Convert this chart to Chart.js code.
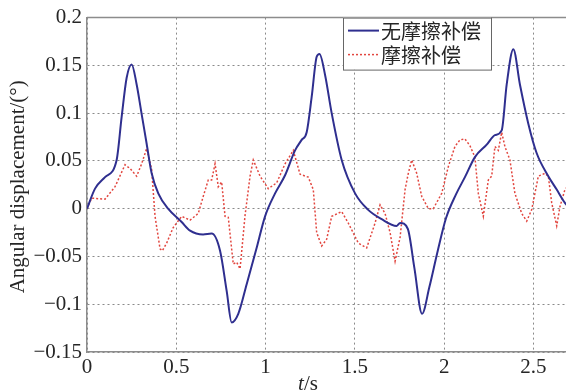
<!DOCTYPE html>
<html>
<head>
<meta charset="utf-8">
<script src="https://cdn.jsdelivr.net/npm/chart.js@4.4.0/dist/chart.umd.min.js"></script>
<style>
  html, body { margin: 0; padding: 0; background: #fff; }
  #wrap { width: 566px; height: 392px; position: relative; }
</style>
</head>
<body>
<div id="wrap"><canvas id="c" width="566" height="392"></canvas></div>
<script>
// Angular displacement response, without and with friction compensation
const timeNoComp = [0, 0.045, 0.101, 0.166, 0.194, 0.222, 0.250, 0.278, 0.306, 0.334, 0.362, 0.399, 0.454,
  0.530, 0.577, 0.650, 0.698, 0.745, 0.782, 0.810, 0.847, 0.894, 0.950, 0.997, 1.053, 1.109, 1.165,
  1.202, 1.230, 1.258, 1.286, 1.302, 1.333, 1.370, 1.426, 1.501, 1.573, 1.650, 1.734, 1.753, 1.796,
  1.833, 1.876, 1.917, 1.964, 2.010, 2.066, 2.116, 2.172, 2.238, 2.284, 2.322, 2.350, 2.387, 2.424,
  2.471, 2.518, 2.583, 2.630, 2.676, 2.700];
const dispNoComp = [0, 0.021, 0.033, 0.051, 0.096, 0.137, 0.151, 0.130, 0.099, 0.068, 0.037, 0.016, 0.000,
  -0.014, -0.023, -0.027, -0.026, -0.044, -0.086, -0.119, -0.110, -0.079, -0.041, -0.008, 0.016, 0.035, 0.061,
  0.072, 0.080, 0.117, 0.159, 0.162, 0.140, 0.100, 0.051, 0.016, -0.001, -0.011, -0.018, -0.015, -0.021,
  -0.062, -0.110, -0.082, -0.044, -0.010, 0.015, 0.033, 0.054, 0.067, 0.077, 0.082, 0.130, 0.167, 0.130,
  0.089, 0.058, 0.034, 0.020, 0.006, 0.001];

const timeComp = [0, 0.026, 0.101, 0.157, 0.213, 0.241, 0.278, 0.306, 0.334, 0.362, 0.381, 0.409, 0.422,
  0.446, 0.482, 0.530, 0.577, 0.623, 0.651, 0.679, 0.698, 0.717, 0.735, 0.754, 0.773, 0.791, 0.819, 0.838,
  0.857, 0.885, 0.913, 0.931, 0.969, 1.015, 1.062, 1.109, 1.155, 1.193, 1.239, 1.267, 1.286, 1.314, 1.342,
  1.370, 1.426, 1.463, 1.519, 1.566, 1.613, 1.641, 1.669, 1.697, 1.725, 1.753, 1.781, 1.799, 1.818, 1.846,
  1.874, 1.911, 1.939, 1.986, 2.023, 2.060, 2.088, 2.116, 2.144, 2.172, 2.191, 2.219, 2.247, 2.266, 2.284,
  2.303, 2.322, 2.340, 2.368, 2.396, 2.434, 2.462, 2.490, 2.527, 2.564, 2.583, 2.602, 2.630, 2.648, 2.676, 2.700];
const dispComp = [0, 0.011, 0.010, 0.023, 0.046, 0.042, 0.034, 0.047, 0.063, 0.041, -0.008, -0.042, -0.044,
  -0.036, -0.020, -0.008, -0.012, -0.005, 0.013, 0.030, 0.030, 0.047, 0.023, 0.028, -0.008, -0.009, -0.058, -0.056,
  -0.063, -0.007, 0.034, 0.051, 0.034, 0.021, 0.027, 0.047, 0.061, 0.036, 0.033, 0.020, -0.025, -0.039, -0.032,
  -0.008, -0.003, -0.015, -0.036, -0.041, -0.015, 0.004, -0.005, -0.025, -0.055, -0.030, 0.020, 0.037, 0.051, 0.037,
  0.013, 0.000, 0.000, 0.016, 0.044, 0.065, 0.072, 0.073, 0.066, 0.054, 0.016, -0.008, 0.030, 0.034, 0.065,
  0.061, 0.080, 0.065, 0.051, 0.016, -0.005, -0.013, -0.001, 0.034, 0.037, 0.034, 0.006, -0.018, 0.002, 0.020, 0.025];

const seriesNames = ['无摩擦补偿', '摩擦补偿'];
const xTicks = [0, 0.5, 1, 1.5, 2, 2.5];
const xTickLabels = ['0', '0.5', '1', '1.5', '2', '2.5'];
const yTicks = [0.2, 0.15, 0.1, 0.05, 0, -0.05, -0.1, -0.15];
const yTickLabels = ['0.2', '0.15', '0.1', '0.05', '0', '\u22120.05', '\u22120.1', '\u22120.15'];

const toPoints = (ts, vs) => ts.map((t, i) => ({ x: t, y: vs[i] }));
const tickFont = { family: '"Liberation Serif", "DejaVu Serif", serif', size: 21 };
const textColor = '#262626';
const frameColor = '#8c8c8c';

// Top frame edge, the boxed legend and the axis titles
const decorations = {
  id: 'decorations',
  afterDatasetsDraw(chart) {
    const { ctx, chartArea } = chart;
    ctx.save();
    ctx.strokeStyle = frameColor;
    ctx.lineWidth = 1.5;
    ctx.beginPath();
    ctx.moveTo(chartArea.left, chartArea.top);
    ctx.lineTo(chartArea.right, chartArea.top);
    ctx.stroke();

    // legend
    const lx = 343, ly = chartArea.top, lw = 148, lh = 52;
    ctx.fillStyle = '#fff';
    ctx.fillRect(lx, ly, lw, lh);
    ctx.strokeStyle = '#666';
    ctx.lineWidth = 1;
    ctx.strokeRect(lx + 0.5, ly + 0.5, lw, lh);
    const rows = [ly + 13, ly + 37];
    chart.data.datasets.forEach((ds, i) => {
      ctx.strokeStyle = ds.borderColor;
      ctx.lineWidth = ds.borderWidth;
      ctx.setLineDash(ds.borderDash || []);
      ctx.beginPath();
      ctx.moveTo(lx + 5, rows[i]);
      ctx.lineTo(lx + 36, rows[i]);
      ctx.stroke();
      ctx.setLineDash([]);
      ctx.fillStyle = textColor;
      ctx.font = '20px "Noto Sans CJK SC", sans-serif';
      ctx.textBaseline = 'middle';
      ctx.textAlign = 'left';
      ctx.fillText(ds.label, lx + 38, rows[i] + 1);
    });

    // x-axis title: italic t
    ctx.fillStyle = textColor;
    ctx.textBaseline = 'alphabetic';
    ctx.font = 'italic 21px "Liberation Serif", serif';
    const tW = ctx.measureText('t').width;
    ctx.font = '21px "Liberation Serif", serif';
    const sW = ctx.measureText('/s').width;
    const x0 = 308 - (tW + sW) / 2;
    ctx.font = 'italic 21px "Liberation Serif", serif';
    ctx.fillText('t', x0, 390);
    ctx.font = '21px "Liberation Serif", serif';
    ctx.fillText('/s', x0 + tW, 390);

    // y-axis title
    ctx.translate(18, (chartArea.top + chartArea.bottom) / 2 + 2);
    ctx.rotate(-Math.PI / 2);
    ctx.textAlign = 'center';
    ctx.textBaseline = 'middle';
    ctx.font = '21px "Liberation Serif", serif';
    ctx.fillText('Angular displacement/(\u00b0)', 0, 0);
    ctx.restore();
  }
};

new Chart(document.getElementById('c'), {
  type: 'line',
  data: {
    datasets: [
      {
        label: seriesNames[0],
        data: toPoints(timeNoComp, dispNoComp),
        borderColor: '#2f2f8f',
        borderWidth: 2,
        pointRadius: 0,
        cubicInterpolationMode: 'monotone',
        fill: false
      },
      {
        label: seriesNames[1],
        data: toPoints(timeComp, dispComp),
        borderColor: '#e2463f',
        borderWidth: 1.5,
        borderDash: [2, 2],
        pointRadius: 0,
        tension: 0,
        fill: false
      }
    ]
  },
  options: {
    responsive: false,
    animation: false,
    devicePixelRatio: 1,
    layout: { padding: { top: 15, right: 0, left: 0, bottom: 0 } },
    plugins: { legend: { display: false }, tooltip: { enabled: false } },
    scales: {
      x: {
        type: 'linear',
        min: 0,
        max: 2.682,
        afterFit(s) { s.height = 40; },
        afterBuildTicks(s) { s.ticks = xTicks.map(v => ({ value: v })); },
        ticks: {
          callback: (v) => xTickLabels[xTicks.findIndex(t => Math.abs(t - v) < 1e-9)],
          font: tickFont,
          color: textColor,
          padding: 3,
          maxRotation: 0,
          autoSkip: false
        },
        grid: { color: '#8a8a8a', lineWidth: 1, drawTicks: false },
        border: { color: frameColor, width: 1.5, dash: [2, 3] }
      },
      y: {
        min: -0.15,
        max: 0.2,
        afterFit(s) { s.width = 87; },
        afterBuildTicks(s) { s.ticks = yTicks.slice().reverse().map(v => ({ value: v })); },
        ticks: {
          callback: (v) => yTickLabels[yTicks.findIndex(t => Math.abs(t - v) < 1e-9)],
          font: tickFont,
          color: textColor,
          padding: 5,
          autoSkip: false
        },
        grid: { color: '#8a8a8a', lineWidth: 1, drawTicks: false },
        border: { color: frameColor, width: 1.5, dash: [2, 3] }
      }
    }
  },
  plugins: [decorations]
});
</script>
</body>
</html>
